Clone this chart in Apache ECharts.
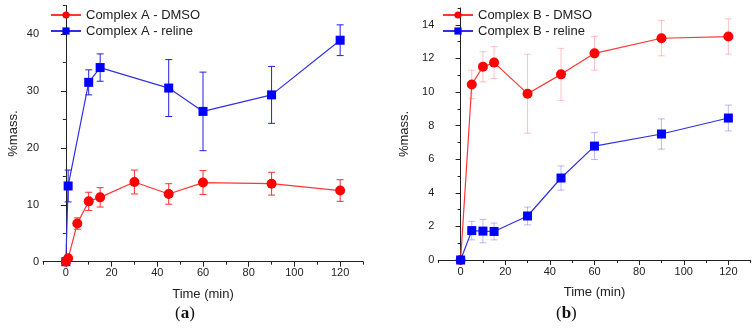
<!DOCTYPE html>
<html>
<head>
    <meta charset="utf-8">
    <title>ECharts</title>
    <script src="https://cdn.jsdelivr.net/npm/echarts@6/dist/echarts.min.js"></script>
    <style>
        body { margin: 0; background: #fff; }
    </style>
</head>
<body>
    <div id="main" style="width:756px;height:330px;"></div>
    <script type="text/javascript">
        // panel (a)
        var timeADmso = [0, 1, 5, 10, 15, 30, 45, 60, 90, 120];
        var aDmso = [0, 0.6, 6.7, 10.6, 11.3, 14.0, 11.9, 13.9, 13.7, 12.5];
        var aDmsoErr = [0, 0, 1.0, 1.6, 1.7, 2.1, 1.8, 2.1, 2.0, 1.9];
        var timeAReline = [0, 1, 10, 15, 45, 60, 90, 120];
        var aReline = [0, 13.3, 31.5, 34.1, 30.5, 26.4, 29.3, 38.9];
        var aRelineErr = [0, 2.8, 2.2, 2.4, 5.0, 6.9, 5.0, 2.7];

        // panel (b)
        var timeB = [0, 5, 10, 15, 30, 45, 60, 90, 120];
        var bDmso = [0, 10.45, 11.5, 11.75, 9.9, 11.05, 12.3, 13.2, 13.3];
        var bDmsoErr = [0, 0.85, 0.9, 0.95, 2.35, 1.55, 1.0, 1.05, 1.05];
        var bReline = [0, 1.75, 1.72, 1.7, 2.62, 4.88, 6.78, 7.5, 8.45];
        var bRelineErr = [0, 0.55, 0.7, 0.5, 0.53, 0.72, 0.8, 0.9, 0.77];

        var xTicks = [0, 20, 40, 60, 80, 100, 120];
        var yTicksA = [0, 10, 20, 30, 40];
        var yTicksB = [0, 2, 4, 6, 8, 10, 12, 14];

        var RED = "#ff0000", BLUE = "#0000ff";
        var font = "'Liberation Sans', Arial, sans-serif";
        var serif = "'Liberation Serif', serif";

        function pairs(t, v) {
            return t.map(function (x, i) { return [x, v[i]]; });
        }
        function triples(t, v, e) {
            return t.map(function (x, i) { return [x, v[i], e[i]]; });
        }

        // vertical error bar with caps
        function errRender(color) {
            return function (params, api) {
                var x = api.value(0), y = api.value(1), e = api.value(2);
                if (!e) return null;
                var hi = api.coord([x, y + e]);
                var lo = api.coord([x, y - e]);
                var w = 3.5;
                var st = { stroke: color, lineWidth: 1 };
                return {
                    type: "group",
                    children: [
                        { type: "line", shape: { x1: hi[0], y1: hi[1], x2: lo[0], y2: lo[1] }, style: st },
                        { type: "line", shape: { x1: hi[0] - w, y1: hi[1], x2: hi[0] + w, y2: hi[1] }, style: st },
                        { type: "line", shape: { x1: lo[0] - w, y1: lo[1], x2: lo[0] + w, y2: lo[1] }, style: st }
                    ]
                };
            };
        }

        function mainX(grid) {
            return {
                type: "value", gridIndex: grid, min: -10, max: 130, position: "bottom",
                name: "Time (min)", nameLocation: "middle", nameGap: 26,
                nameTextStyle: { fontSize: 13, color: "#222", fontFamily: font },
                axisLine: { show: true, lineStyle: { color: "#222", width: 1 } },
                axisTick: { show: true, length: 5, customValues: xTicks, lineStyle: { color: "#222" } },
                axisLabel: { customValues: xTicks, fontSize: 11, color: "#222", fontFamily: font, margin: 6 },
                splitLine: { show: false }
            };
        }
        // minor ticks only
        function minorX(grid) {
            return {
                type: "value", gridIndex: grid, min: -10, max: 130, interval: 10, position: "bottom",
                axisLine: { show: false },
                axisTick: { show: true, length: 3, lineStyle: { color: "#222" } },
                axisLabel: { show: false },
                splitLine: { show: false }
            };
        }
        function mainY(grid, max, ticks, gap) {
            return {
                type: "value", gridIndex: grid, min: 0, max: max, position: "left",
                name: "%mass.", nameLocation: "middle", nameGap: gap,
                nameTextStyle: { fontSize: 13, color: "#222", fontFamily: font },
                axisLine: { show: true, lineStyle: { color: "#222", width: 1 } },
                axisTick: { show: true, length: 5, customValues: ticks, lineStyle: { color: "#222" } },
                axisLabel: { customValues: ticks, fontSize: 11, color: "#222", fontFamily: font, margin: 4 },
                splitLine: { show: false }
            };
        }
        function minorY(grid, max, step) {
            return {
                type: "value", gridIndex: grid, min: 0, max: max, interval: step, position: "left",
                axisLine: { show: false },
                axisTick: { show: true, length: 3, lineStyle: { color: "#222" } },
                axisLabel: { show: false },
                splitLine: { show: false }
            };
        }

        function lineSeries(name, xi, yi, data, color, lineColor, symbol, size, z) {
            return {
                name: name, type: "line", xAxisIndex: xi, yAxisIndex: yi,
                data: data, symbol: symbol, symbolSize: size,
                itemStyle: { color: color },
                lineStyle: { color: lineColor, width: 1.2 },
                z: z
            };
        }
        function errSeries(xi, yi, data, color, z) {
            return {
                type: "custom", xAxisIndex: xi, yAxisIndex: yi,
                data: data, renderItem: errRender(color), z: z, silent: true
            };
        }

        var myChart = echarts.init(document.getElementById("main"));
        var option = {
            animation: false,
            backgroundColor: "#fff",
            grid: [
                { left: 43, right: 393, top: 5.5, bottom: 68.3 },
                { left: 438.3, right: 5.3, top: 8, bottom: 70 }
            ],
            xAxis: [mainX(0), minorX(0), mainX(1), minorX(1)],
            yAxis: [mainY(0, 45, yTicksA, 23), minorY(0, 45, 5), mainY(1, 15, yTicksB, 27), minorY(1, 15, 1)],
            legend: [
                {
                    orient: "vertical", left: 50, top: 8.5, padding: 0, itemWidth: 30, itemHeight: 9, itemGap: 3,
                    textStyle: { fontSize: 13, color: "#222", fontFamily: font },
                    data: ["Complex A - DMSO", "Complex A - reline"]
                },
                {
                    orient: "vertical", left: 442, top: 8.5, padding: 0, itemWidth: 30, itemHeight: 9, itemGap: 3,
                    textStyle: { fontSize: 13, color: "#222", fontFamily: font },
                    data: ["Complex B - DMSO", "Complex B - reline"]
                }
            ],
            graphic: [
                {
                    type: "text", left: 175, top: 305,
                    style: { text: "({a|a})", font: "17px " + serif, fill: "#111",
                        rich: { a: { fontWeight: "bold", fontSize: 17, fontFamily: serif, fill: "#111" } } }
                },
                {
                    type: "text", left: 556, top: 305,
                    style: { text: "({a|b})", font: "17px " + serif, fill: "#111",
                        rich: { a: { fontWeight: "bold", fontSize: 17, fontFamily: serif, fill: "#111" } } }
                }
            ],
            series: [
                errSeries(0, 0, triples(timeAReline, aReline, aRelineErr), "#2020e0", 2),
                errSeries(0, 0, triples(timeADmso, aDmso, aDmsoErr), "#ff3030", 2),
                lineSeries("Complex A - reline", 0, 0, pairs(timeAReline, aReline), BLUE, "#3030e0", "rect", 9, 3),
                lineSeries("Complex A - DMSO", 0, 0, pairs(timeADmso, aDmso), RED, "#ff3535", "circle", 10, 4),

                errSeries(2, 2, triples(timeB, bDmso, bDmsoErr), "rgba(255,80,80,0.35)", 1),
                errSeries(2, 2, triples(timeB, bReline, bRelineErr), "rgba(60,60,230,0.35)", 1),
                lineSeries("Complex B - DMSO", 2, 2, pairs(timeB, bDmso), RED, "#ff3535", "circle", 10, 3),
                lineSeries("Complex B - reline", 2, 2, pairs(timeB, bReline), BLUE, "#3030e0", "rect", 9, 4)
            ]
        };
        myChart.setOption(option);
    </script>
</body>
</html>
